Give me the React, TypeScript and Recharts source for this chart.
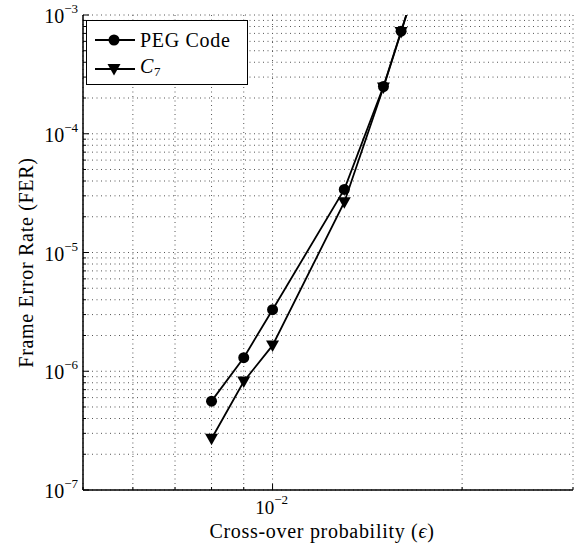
import React from 'react';
import { LineChart, Line, XAxis, YAxis, CartesianGrid } from 'recharts';

// cross-over probability (x) and frame error rates
const epsilon = [0.008, 0.009, 0.01, 0.013, 0.015, 0.016, 0.017];
const pegFer = [5.6e-7, 1.3e-6, 3.3e-6, 3.4e-5, 2.5e-4, 7.3e-4, 2.0e-3];
const c7Fer = [2.7e-7, 8.2e-7, 1.65e-6, 2.65e-5, 2.45e-4, 7.2e-4, 2.0e-3];

const seriesNames = ['PEG Code', 'C7'];

const xTicks = [0.005, 0.006, 0.007, 0.008, 0.009, 0.01, 0.02, 0.03];
const yTicks = [
  1e-7, 2e-7, 3e-7, 4e-7, 5e-7, 6e-7, 7e-7, 8e-7, 9e-7,
  1e-6, 2e-6, 3e-6, 4e-6, 5e-6, 6e-6, 7e-6, 8e-6, 9e-6,
  1e-5, 2e-5, 3e-5, 4e-5, 5e-5, 6e-5, 7e-5, 8e-5, 9e-5,
  1e-4, 2e-4, 3e-4, 4e-4, 5e-4, 6e-4, 7e-4, 8e-4, 9e-4,
  1e-3,
];

const data = epsilon.map((eps, i) => ({ eps, peg: pegFer[i], c7: c7Fer[i] }));

const FONT = '"Liberation Serif", serif';

const isDecade = (v: number) => Math.abs(Math.log10(v) - Math.round(Math.log10(v))) < 1e-9;

const LeftTick = ({ x, y, payload }: any) => {
  const v = payload.value;
  const major = isDecade(v);
  return (
    <g>
      <line x1={x} y1={y} x2={x + (major ? 6 : 3)} y2={y} stroke="#000" strokeWidth={1} />
      {major && (
        <text x={x - 5} y={y + 8} textAnchor="end" fontFamily={FONT} fontSize={20} fill="#000">
          10
          <tspan dy={-10} fontSize={13}>{`\u2212${Math.round(-Math.log10(v))}`}</tspan>
        </text>
      )}
    </g>
  );
};

const RightTick = ({ x, y, payload }: any) => {
  const major = isDecade(payload.value);
  return <line x1={x} y1={y} x2={x - (major ? 6 : 3)} y2={y} stroke="#000" strokeWidth={1} />;
};

const BottomTick = ({ x, y, payload }: any) => {
  const v = payload.value;
  const major = isDecade(v);
  return (
    <g>
      <line x1={x} y1={y} x2={x} y2={y - (major ? 6 : 3)} stroke="#000" strokeWidth={1} />
      {major && (
        <text x={x - 1} y={y + 24} textAnchor="middle" fontFamily={FONT} fontSize={19} fill="#000">
          10
          <tspan dy={-10} fontSize={13}>{`\u2212${Math.round(-Math.log10(v))}`}</tspan>
        </text>
      )}
    </g>
  );
};

const TopTick = ({ x, y, payload }: any) => {
  const major = isDecade(payload.value);
  return <line x1={x} y1={y} x2={x} y2={y + (major ? 6 : 3)} stroke="#000" strokeWidth={1} />;
};

const CircleDot = (p: any) => (
  <circle key={`c-${p.index}`} cx={p.cx} cy={p.cy} r={5.5} fill="#000" stroke="none" />
);

const TriangleDot = (p: any) => (
  <path
    key={`t-${p.index}`}
    d={`M${p.cx - 6.5},${p.cy - 5} L${p.cx + 6.5},${p.cy - 5} L${p.cx},${p.cy + 6.5} Z`}
    fill="#000"
  />
);

const XLabel = ({ viewBox }: any) => (
  <text
    x={viewBox.x + viewBox.width / 2 - 6}
    y={viewBox.y + 48}
    textAnchor="middle"
    fontFamily={FONT}
    fontSize={20}
    letterSpacing={0.7}
    fill="#000"
  >
    Cross-over probability (<tspan fontStyle="italic">ϵ</tspan>)
  </text>
);

const YLabel = ({ viewBox }: any) => {
  const cx = 33;
  const cy = viewBox.y + viewBox.height / 2 + 10;
  return (
    <text
      x={cx}
      y={cy}
      transform={`rotate(-90, ${cx}, ${cy})`}
      textAnchor="middle"
      fontFamily={FONT}
      fontSize={20}
      letterSpacing={0.7}
      fill="#000"
    >
      Frame Error Rate (FER)
    </text>
  );
};

const LegendIcon = ({ marker }: { marker: 'circle' | 'triangle' }) => (
  <svg width={42} height={16} style={{ display: 'block' }}>
    <line x1={1} y1={8} x2={41} y2={8} stroke="#000" strokeWidth={1.8} />
    {marker === 'circle' ? (
      <circle cx={20} cy={8} r={5.5} fill="#000" />
    ) : (
      <path d="M13.5,3 L26.5,3 L20,14.5 Z" fill="#000" />
    )}
  </svg>
);

export default function App() {
  return (
    <div style={{ position: 'absolute', left: 0, top: 0, width: 587, height: 550, background: '#fff' }}>
      <LineChart
        width={587}
        height={550}
        data={data}
        margin={{ top: 15, right: 14, bottom: 0, left: 23 }}
      >
        <CartesianGrid stroke="#555" strokeDasharray="1 3.5" strokeWidth={1} />
        <XAxis
          dataKey="eps"
          type="number"
          scale="log"
          domain={[0.005, 0.03]}
          allowDataOverflow
          ticks={xTicks}
          interval={0}
          height={60}
          tickSize={0}
          tickMargin={0}
          tick={<BottomTick />}
          axisLine={{ stroke: '#000', strokeWidth: 1.5 }}
          label={<XLabel />}
        />
        <XAxis
          xAxisId="top"
          orientation="top"
          dataKey="eps"
          type="number"
          scale="log"
          domain={[0.005, 0.03]}
          allowDataOverflow
          ticks={xTicks}
          interval={0}
          height={0}
          tickSize={0}
          tickMargin={0}
          tick={<TopTick />}
          axisLine={{ stroke: '#000', strokeWidth: 1.5 }}
        />
        <YAxis
          type="number"
          scale="log"
          domain={[1e-7, 1e-3]}
          allowDataOverflow
          ticks={yTicks}
          interval={0}
          width={60}
          tickSize={0}
          tickMargin={0}
          tick={<LeftTick />}
          axisLine={{ stroke: '#000', strokeWidth: 1.5 }}
          label={<YLabel />}
        />
        <YAxis
          yAxisId="right"
          orientation="right"
          type="number"
          scale="log"
          domain={[1e-7, 1e-3]}
          allowDataOverflow
          ticks={yTicks}
          interval={0}
          width={0}
          tickSize={0}
          tickMargin={0}
          tick={<RightTick />}
          axisLine={{ stroke: '#000', strokeWidth: 1.5 }}
        />
        <Line
          dataKey="peg"
          name={seriesNames[0]}
          stroke="#000"
          strokeWidth={1.8}
          dot={CircleDot}
          isAnimationActive={false}
        />
        <Line
          dataKey="c7"
          name={seriesNames[1]}
          stroke="#000"
          strokeWidth={1.8}
          dot={TriangleDot}
          isAnimationActive={false}
        />
      </LineChart>
      <div
        style={{
          position: 'absolute',
          left: 86,
          top: 20,
          width: 160,
          height: 63,
          border: '1.5px solid #000',
          background: '#fff',
          fontFamily: FONT,
          fontSize: 20,
          letterSpacing: 0.7,
          color: '#000',
        }}
      >
        <div style={{ position: 'absolute', left: 7, top: 10, display: 'flex', alignItems: 'center', height: 18 }}>
          <LegendIcon marker="circle" />
          <span style={{ marginLeft: 4, lineHeight: '18px' }}>{seriesNames[0]}</span>
        </div>
        <div style={{ position: 'absolute', left: 7, top: 39, display: 'flex', alignItems: 'center', height: 18 }}>
          <LegendIcon marker="triangle" />
          <span style={{ marginLeft: 4, lineHeight: '18px' }}>
            <span style={{ fontStyle: 'italic' }}>{seriesNames[1].charAt(0)}</span>
            <sub style={{ fontSize: 13, verticalAlign: '-3px' }}>{seriesNames[1].slice(1)}</sub>
          </span>
        </div>
      </div>
    </div>
  );
}
